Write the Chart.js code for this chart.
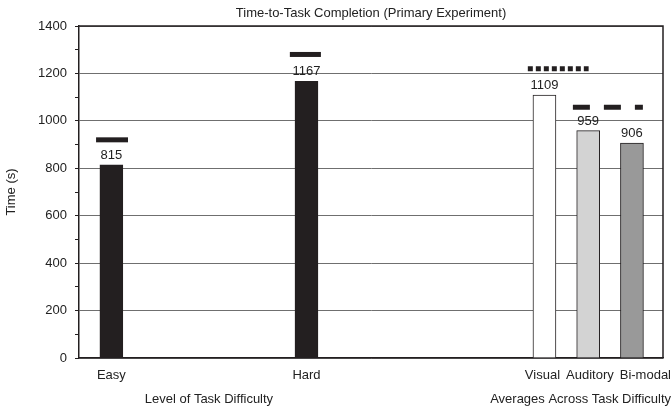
<!DOCTYPE html>
<html>
<head>
<meta charset="utf-8">
<script src="https://cdn.jsdelivr.net/npm/chart.js@4"></script>
<style>
  html, body { margin: 0; padding: 0; background: #fff; }
  #wrap { width: 672px; height: 408px; }
</style>
</head>
<body>
<div id="wrap"><canvas id="chart" width="672" height="408"></canvas></div>
<script>
// bars
const categories = ['Easy', 'Hard', 'Visual', 'Auditory', 'Bi-modal'];
const slots = [1.1, 5.56, 11, 12, 13];
const times = [815, 1167, 1109, 959, 906];
const barColors = ['#231f20', '#231f20', '#ffffff', '#d3d3d3', '#999999'];

// group captions under the axis
const groupNames = ['Level of Task Difficulty', 'Averages Across Task Difficulty'];
const groupCenters = [(slots[0] + slots[1]) / 2, slots[3]];

// reference marks drawn above the bars
const refValues = [920, 1280, 1220, 1057];
const refFrom = [0.75, 5.18, 10.62, 11.65];
const refTo = [1.48, 5.89, 12.01, 13.25];
const refDash = [[], [], [5, 3], [17, 14]];

const font = '"Liberation Sans", Arial, Helvetica, sans-serif';
const fontSize = 13;
const ink = '#231f20';

const refSets = refValues.map((v, i) => ({
    type: 'line',
    data: [{ x: refFrom[i], y: v }, { x: refTo[i], y: v }],
    borderColor: ink,
    borderWidth: 5,
    borderDash: refDash[i],
    borderCapStyle: 'butt',
    pointRadius: 0,
    fill: false
}));

// category labels, nudged apart where they would touch
function drawCategoryLabels(chart, ctx) {
    const xs = chart.scales.x;
    const gap = 6;
    const boxes = categories.map((name, i) => {
        const w = ctx.measureText(name).width;
        const c = xs.getPixelForValue(slots[i]);
        return { name: name, w: w, l: c - w / 2 };
    });
    for (let i = 1; i < boxes.length; i++) {
        const prev = boxes[i - 1];
        boxes[i].l = Math.max(boxes[i].l, prev.l + prev.w + gap);
    }
    const last = boxes[boxes.length - 1];
    last.l = Math.min(last.l, chart.width - 1 - last.w);
    for (let i = boxes.length - 2; i >= 0; i--) {
        const next = boxes[i + 1];
        boxes[i].l = Math.min(boxes[i].l, next.l - gap - boxes[i].w);
    }
    ctx.textAlign = 'left';
    boxes.forEach(b => ctx.fillText(b.name, b.l, 375));
}

const extras = {
    id: 'extras',
    afterDatasetsDraw(chart) {
        const ctx = chart.ctx;
        const meta = chart.getDatasetMeta(0);
        ctx.save();
        ctx.font = fontSize + 'px ' + font;
        ctx.fillStyle = '#222';
        ctx.textAlign = 'center';
        ctx.textBaseline = 'bottom';
        meta.data.forEach((bar, i) => {
            ctx.fillText(String(times[i]), bar.x, bar.y - 3);
        });
        ctx.restore();
    },
    afterDraw(chart) {
        const ctx = chart.ctx;
        const area = chart.chartArea;
        const xs = chart.scales.x;
        ctx.save();
        // frame: top and right
        ctx.strokeStyle = ink;
        ctx.lineWidth = 1.5;
        ctx.beginPath();
        ctx.moveTo(area.left, area.top);
        ctx.lineTo(area.right, area.top);
        ctx.lineTo(area.right, area.bottom);
        ctx.stroke();

        ctx.font = fontSize + 'px ' + font;
        ctx.fillStyle = '#222';
        ctx.textBaseline = 'middle';
        ctx.textAlign = 'center';
        // title
        ctx.fillText('Time-to-Task Completion (Primary Experiment)', (area.left + area.right) / 2, 13);
        // group captions
        groupNames.forEach((name, i) => {
            const w = ctx.measureText(name).width;
            let x = xs.getPixelForValue(groupCenters[i]);
            x = Math.min(x, chart.width - 1 - w / 2);
            ctx.fillText(name, x, 399);
        });
        drawCategoryLabels(chart, ctx);
        ctx.restore();
    }
};

new Chart(document.getElementById('chart').getContext('2d'), {
    type: 'bar',
    data: {
        datasets: [
            {
                data: slots.map((x, i) => ({ x: x, y: times[i] })),
                backgroundColor: barColors,
                borderColor: ink,
                borderWidth: 1,
                barThickness: 23
            },
            ...refSets
        ]
    },
    options: {
        responsive: false,
        animation: false,
        layout: { padding: { top: 26, right: 9, left: 0, bottom: 0 } },
        plugins: {
            legend: { display: false },
            tooltip: { enabled: false }
        },
        scales: {
            x: {
                type: 'linear',
                min: 0.36,
                max: 13.71,
                offset: false,
                grid: { display: false },
                border: { color: ink, width: 1.5 },
                afterFit: axis => { axis.height = 50; },
                ticks: { display: false }
            },
            y: {
                min: 0,
                max: 1400,
                afterFit: axis => { axis.width = 79; },
                border: { color: ink, width: 1.5 },
                grid: {
                    color: c => (c.tick.value % 200 === 0 ? '#6f6f6f' : 'rgba(0,0,0,0)'),
                    tickColor: ink,
                    tickLength: 4,
                    lineWidth: 1
                },
                ticks: {
                    stepSize: 100,
                    padding: 8,
                    color: '#222',
                    font: { family: font, size: fontSize },
                    callback: v => (v % 200 === 0 ? String(v) : '')
                },
                title: {
                    display: true,
                    text: 'Time (s)',
                    color: '#222',
                    font: { family: font, size: fontSize },
                    padding: { top: 4, bottom: 0 }
                }
            }
        }
    },
    plugins: [extras]
});
</script>
</body>
</html>
